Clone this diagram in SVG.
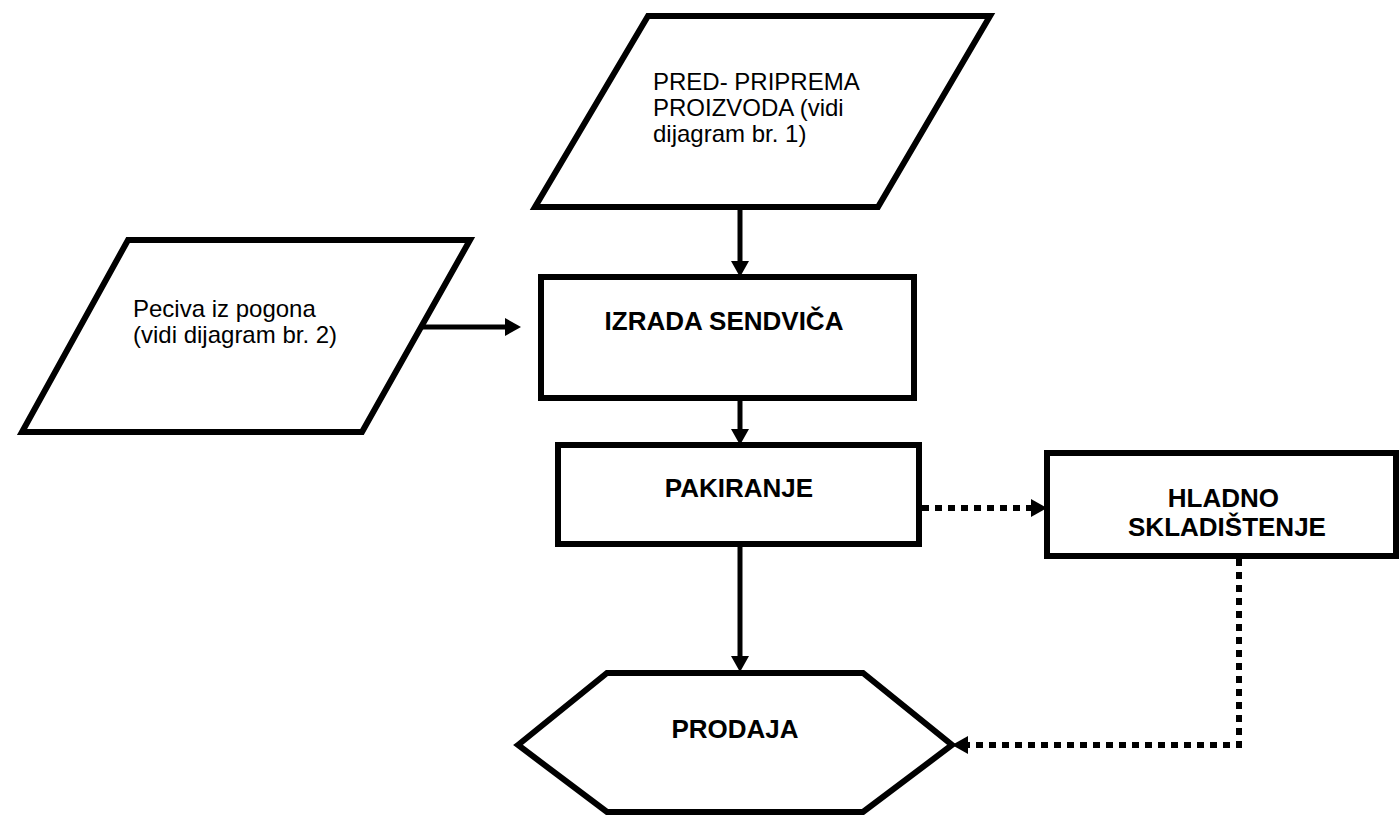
<svg xmlns="http://www.w3.org/2000/svg" width="1399" height="816" viewBox="0 0 1399 816">
  <style>
    .shape { fill: #ffffff; stroke: #000000; stroke-width: 6; stroke-linejoin: miter; }
    .label { font-family: "Liberation Sans", Arial, sans-serif; font-size: 24px; fill: #000000; }
    .bold { font-weight: bold; font-size: 26px; text-anchor: middle; }
    .flow { fill: none; stroke: #000000; stroke-width: 5; }
    .dotted { fill: none; stroke: #000000; stroke-width: 6; stroke-dasharray: 7 6; }
  </style>
  <defs>
    <marker id="arrow" markerUnits="userSpaceOnUse" markerWidth="16" markerHeight="18" refX="0" refY="9" orient="auto">
      <path d="M0,0 L16,9 L0,18 z" fill="#000000"/>
    </marker>
  </defs>
  <rect width="1399" height="816" fill="#ffffff"/>

  <!-- connectors -->
  <g id="connectors">
    <path class="flow" d="M740,208 L740,261" marker-end="url(#arrow)"/>
    <path class="flow" d="M421,327 L505,327" marker-end="url(#arrow)"/>
    <path class="flow" d="M740,399 L740,429" marker-end="url(#arrow)"/>
    <path class="flow" d="M740,540 L740,656" marker-end="url(#arrow)"/>
    <path class="dotted" d="M922,508 L1031,508" marker-end="url(#arrow)"/>
    <path class="dotted" d="M1239,559 L1239,745 L968,745" marker-end="url(#arrow)"/>
  </g>

  <!-- input: pre-preparation -->
  <g id="node-predpriprema">
    <polygon class="shape" points="648,16 990,16 878,207 535,207"/>
    <text class="label">
      <tspan x="653" y="90">PRED- PRIPREMA</tspan>
      <tspan x="653" y="116">PROIZVODA (vidi</tspan>
      <tspan x="653" y="142">dijagram br. 1)</tspan>
    </text>
  </g>

  <!-- input: pastries -->
  <g id="node-peciva">
    <polygon class="shape" points="128,240 470,240 362,432 22,432"/>
    <text class="label">
      <tspan x="133" y="317">Peciva iz pogona</tspan>
      <tspan x="133" y="343">(vidi dijagram br. 2)</tspan>
    </text>
  </g>

  <!-- process: sandwich making -->
  <g id="node-izrada">
    <rect class="shape" x="541" y="277" width="373" height="121"/>
    <text class="label bold" x="724" y="330">IZRADA SENDVIČA</text>
  </g>

  <!-- process: packing -->
  <g id="node-pakiranje">
    <rect class="shape" x="558" y="445" width="361" height="99"/>
    <text class="label bold" x="739" y="497">PAKIRANJE</text>
  </g>

  <!-- process: cold storage -->
  <g id="node-hladno">
    <rect class="shape" x="1047" y="453" width="349" height="103"/>
    <text class="label bold">
      <tspan x="1227" y="507">HLADNO</tspan>
      <tspan x="1227" y="536">SKLADIŠTENJE</tspan>
    </text>
  </g>

  <!-- terminal: sale -->
  <g id="node-prodaja">
    <polygon class="shape" points="518,745 607,673 863,673 952,745 863,812 607,812"/>
    <text class="label bold" x="735" y="738">PRODAJA</text>
  </g>
</svg>
